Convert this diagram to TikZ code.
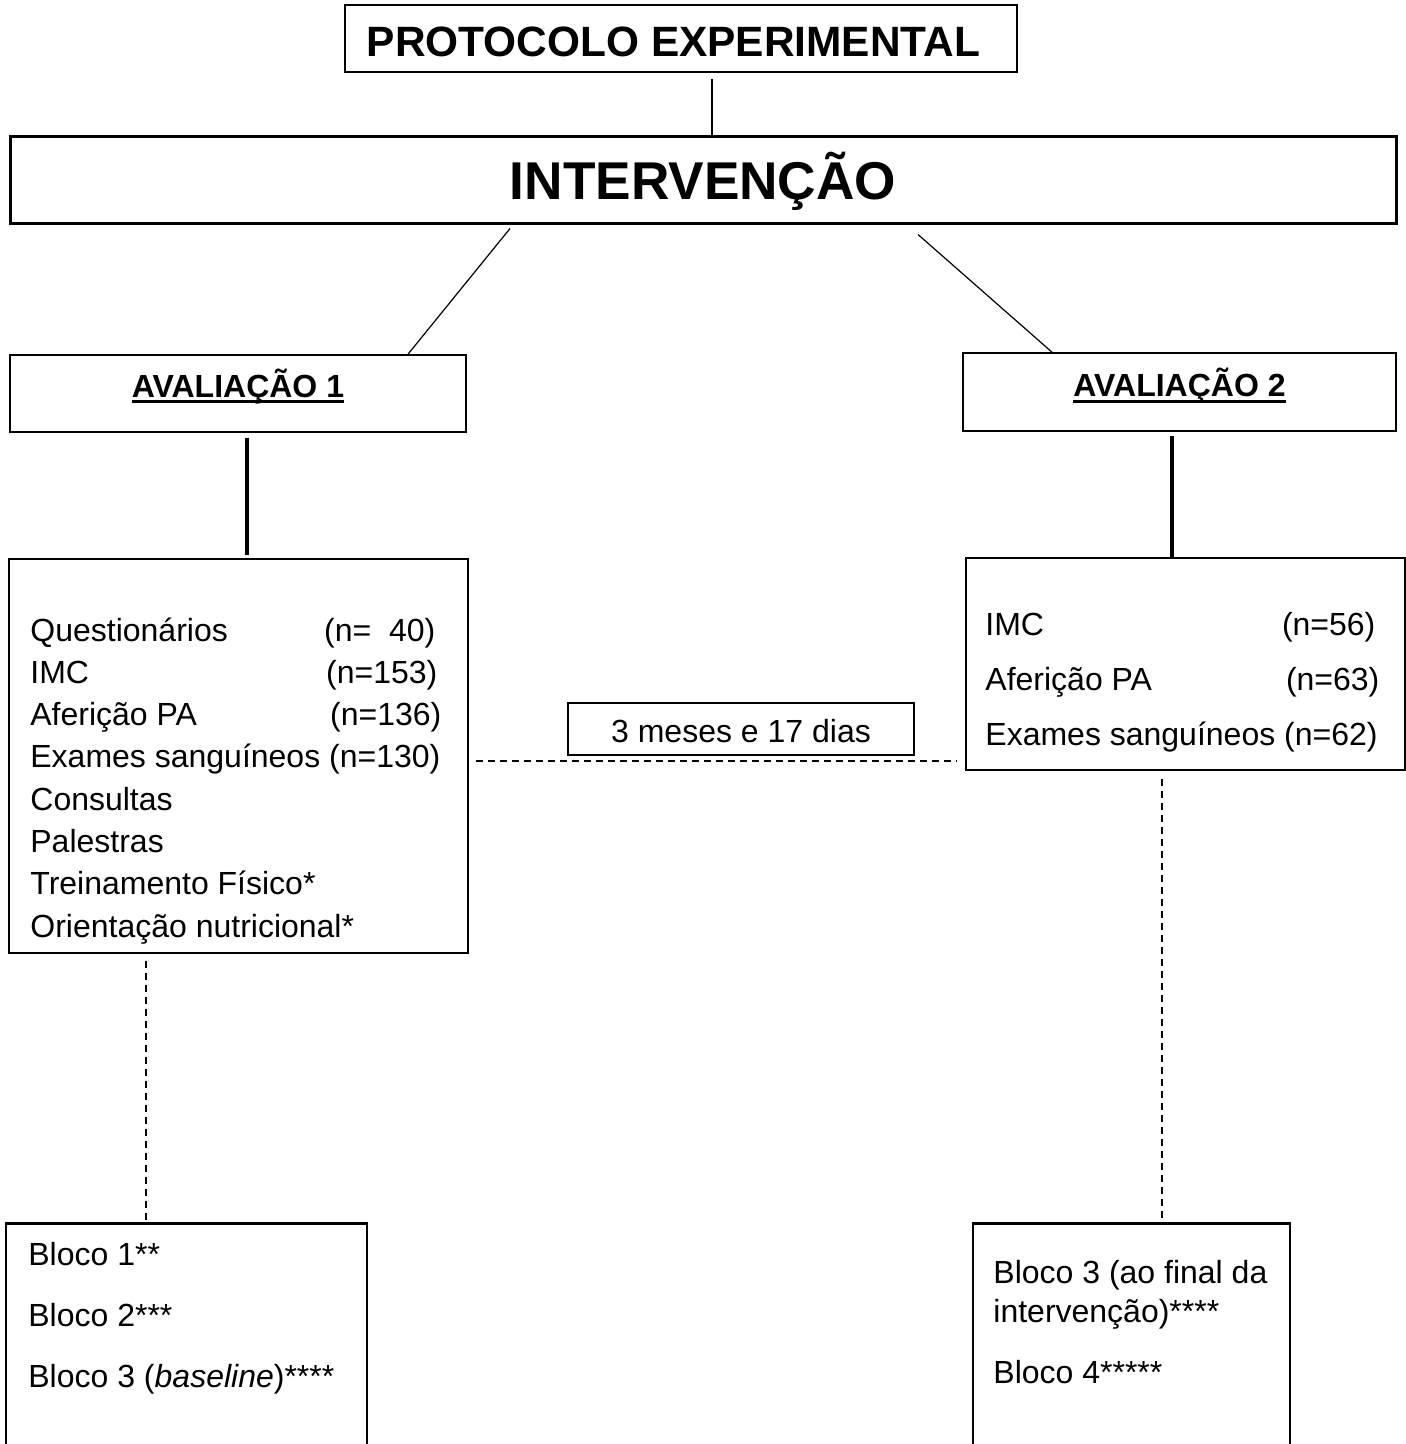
\documentclass[tikz,border=0pt]{standalone}
\usepackage{fontspec}
\setmainfont{Liberation Sans}
\usetikzlibrary{calc}

\newcommand{\sublinhado}[1]{\setbox0\hbox{#1}\rlap{\rule[-3pt]{\wd0}{1.5pt}}\box0}

\begin{document}
\begin{tikzpicture}[x=0.5pt,y=-0.5pt,
    caixa/.style={draw,line width=0.8pt,inner sep=0pt},
    linha/.style={inner sep=0pt,anchor=base west,font=\fontsize{16}{19}\selectfont},
    fino/.style={line width=0.6pt},
    grosso/.style={line width=1.8pt},
    tracejado/.style={line width=0.8pt,dash pattern=on 3.5pt off 2.5pt}]
        \useasboundingbox (0,0) rectangle (1406,1444);

        \node [caixa,minimum width=336pt,minimum height=33.5pt,text height=18.5pt,text depth=0pt,
          font=\fontsize{21.2}{25}\selectfont\bfseries] (prot) at (681,38.5) {PROTOCOLO EXPERIMENTAL\hspace*{7.5pt}};
        \node [caixa,line width=1.5pt,minimum width=693pt,minimum height=43.5pt,text height=19.5pt,text depth=0pt,
          font=\fontsize{26.6}{30}\selectfont\bfseries] (interv) at (703,180.5) {INTERVENÇÃO};

        \node [caixa,minimum width=228pt,minimum height=38.5pt,text height=11.5pt,text depth=8pt,
          font=\fontsize{16}{19}\selectfont\bfseries] (av1) at (238,393.5) {\sublinhado{AVALIAÇÃO 1}};
        \node [caixa,minimum width=216.5pt,minimum height=39pt,text height=11.5pt,text depth=7pt,
          font=\fontsize{16}{19}\selectfont\bfseries] (av2) at (1179.5,392) {\sublinhado{AVALIAÇÃO 2}};

        \node [caixa,minimum width=229.5pt,minimum height=197pt] (list1) at (238.5,756) {};
        \node [caixa,minimum width=219.5pt,minimum height=106pt] (list2) at (1185.5,664) {};
        \node [caixa,minimum width=173pt,minimum height=26pt,text height=13pt,text depth=0pt,
          font=\fontsize{16}{19}\selectfont] (meses) at (741,729) {3 meses e 17 dias};

        \node [caixa,minimum width=180.5pt,minimum height=123pt] (blk1) at (186.5,1347) {};
        \node [caixa,minimum width=158.5pt,minimum height=123pt] (blk2) at (1131.5,1347) {};
        \draw [line width=1.5pt] (blk1.north west) -- (blk1.north east);
        \draw [line width=1.5pt] (blk2.north west) -- (blk2.north east);

        % avaliacao 1
        \node [linha] (quest) at (30,641) {\makebox[202.5pt][l]{Questionários\hfill(n=\ \ 40)}};
        \node [linha] (imc1) at (30,683.3) {\makebox[203.5pt][l]{IMC\hfill(n=153)}};
        \node [linha] (pa1) at (30,725.6) {\makebox[205.5pt][l]{Aferição PA\hfill(n=136)}};
        \node [linha] (exa1) at (30,767.9) {Exames sanguíneos (n=130)};
        \node [linha] (cons) at (30,810.2) {Consultas};
        \node [linha] (pal) at (30,852.5) {Palestras};
        \node [linha] (trein) at (30,894.8) {Treinamento Físico*};
        \node [linha] (nutri) at (30,937.1) {Orientação nutricional*};

        % avaliacao 2
        \node [linha] (imc2) at (985,635) {\makebox[195pt][l]{IMC\hfill(n=56)}};
        \node [linha] (pa2) at (985,690) {\makebox[197pt][l]{Aferição PA\hfill(n=63)}};
        \node [linha] (exa2) at (985,745) {Exames sanguíneos (n=62)};

        % blocos
        \node [linha] (b1) at (28,1265) {Bloco 1**};
        \node [linha] (b2) at (28,1326) {Bloco 2***};
        \node [linha] (b3) at (28,1387) {Bloco 3 (\textit{baseline})****};
        \node [linha] (b3f) at (993,1283) {Bloco 3 (ao final da};
        \node [linha] (b3g) at (993,1322) {intervenção)****};
        \node [linha] (b4) at (993,1383) {Bloco 4*****};

        \draw [fino] ($(prot.south)+(31,6)$) -- ($(interv.north)+(9,0)$);
        \draw [fino] ($(interv.south)+(-193,3)$) -- ($(av1.north)+(170,0)$);
        \draw [fino] ($(interv.south)+(215,9)$) -- ($(av2.north)+(-127.5,0)$);

        \draw [grosso] ($(av1.south)+(9,5)$) -- ($(list1.north)+(8.5,-3)$);
        \draw [grosso] ($(av2.south)+(-7.5,4)$) -- ($(list2.north)+(-13.5,0)$);

        \draw [tracejado] ($(list1.east)+(7,5)$) -- ($(list1.east -| list2.west)+(-8,5)$);
        \draw [tracejado] ($(list1.south west)+(138,7)$) coordinate (d1) -- (d1 |- blk1.north);
        \draw [tracejado] ($(list2.south)+(-23.5,8)$) coordinate (d2) -- (d2 |- blk2.north);
      \end{tikzpicture}
\end{document}
